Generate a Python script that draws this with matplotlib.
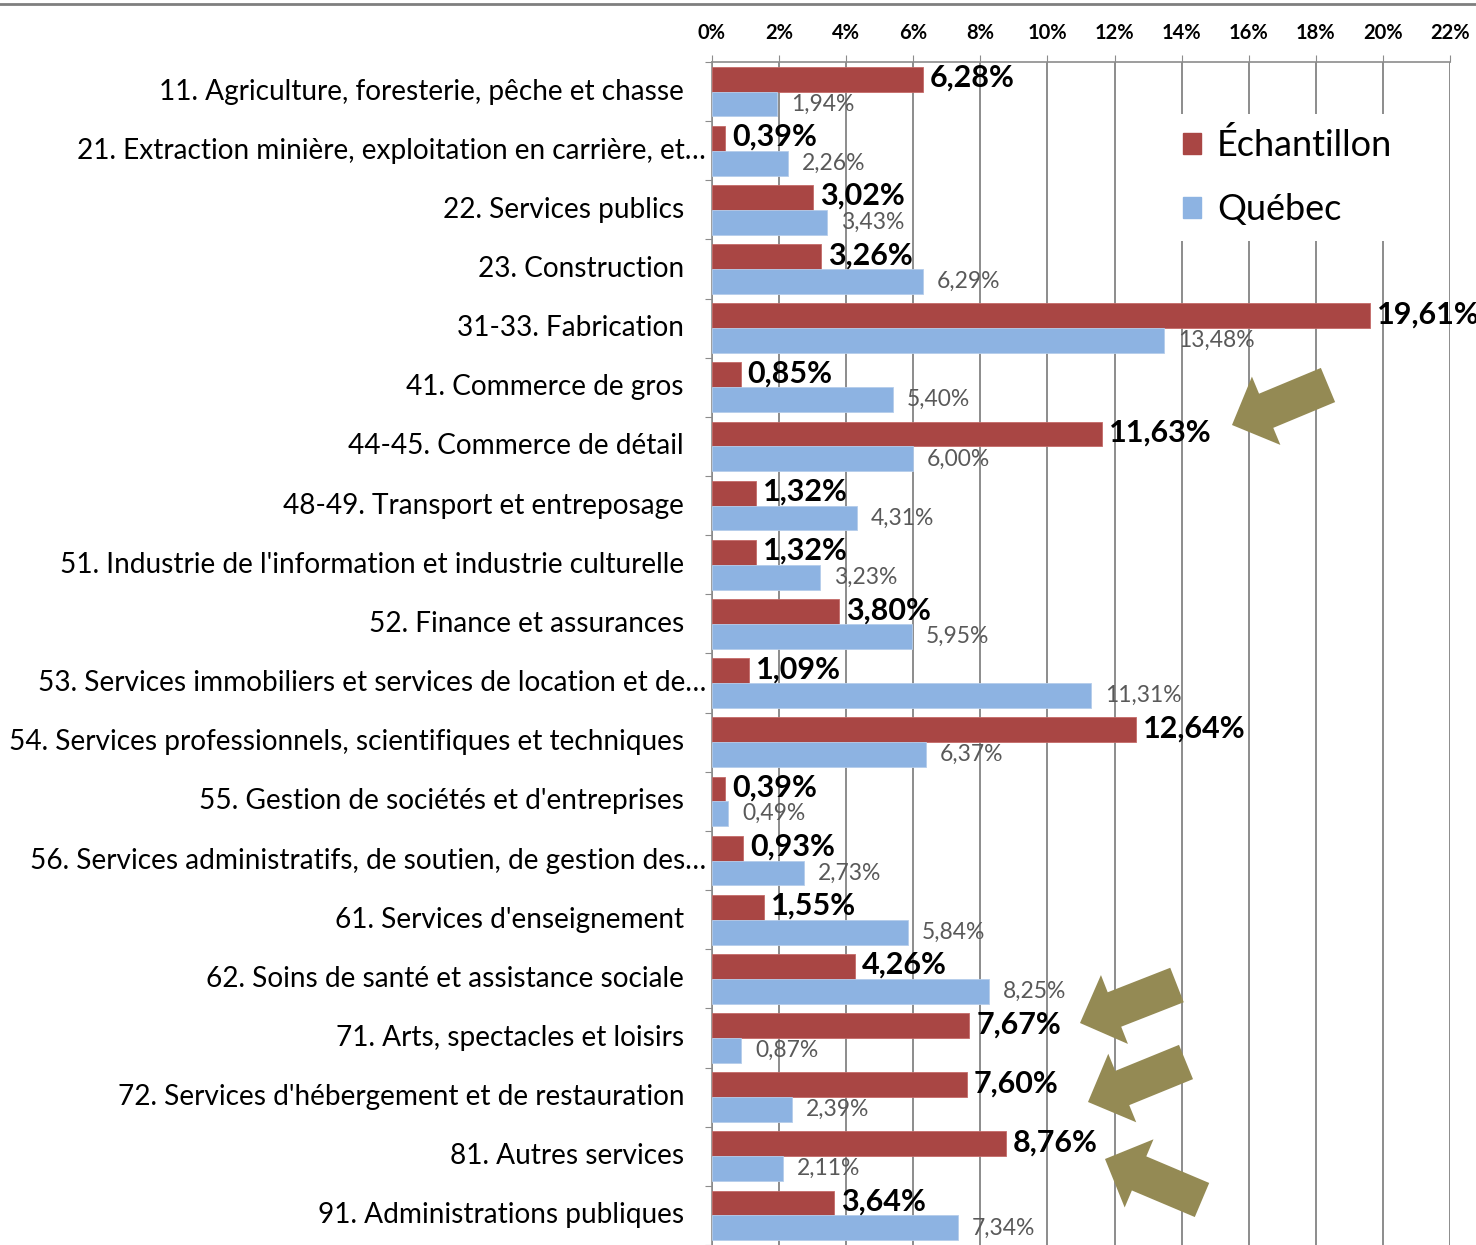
import matplotlib.pyplot as plt
import matplotlib.transforms as mtransforms
from matplotlib.patches import Patch, FancyArrow
from matplotlib.lines import Line2D

categories = [
    "11. Agriculture, foresterie, pêche et chasse",
    "21. Extraction minière, exploitation en carrière, et…",
    "22. Services publics",
    "23. Construction",
    "31-33. Fabrication",
    "41. Commerce de gros",
    "44-45. Commerce de détail",
    "48-49. Transport et entreposage",
    "51. Industrie de l'information et industrie culturelle",
    "52. Finance et assurances",
    "53. Services immobiliers et services de location et de…",
    "54. Services professionnels, scientifiques et techniques",
    "55. Gestion de sociétés et d'entreprises",
    "56. Services administratifs, de soutien, de gestion des…",
    "61. Services d'enseignement",
    "62. Soins de santé et assistance sociale",
    "71. Arts, spectacles et loisirs",
    "72. Services d'hébergement et de restauration",
    "81. Autres services",
    "91. Administrations publiques",
]
echantillon = [6.28, 0.39, 3.02, 3.26, 19.61, 0.85, 11.63, 1.32, 1.32, 3.80,
               1.09, 12.64, 0.39, 0.93, 1.55, 4.26, 7.67, 7.60, 8.76, 3.64]
quebec = [1.94, 2.26, 3.43, 6.29, 13.48, 5.40, 6.00, 4.31, 3.23, 5.95,
          11.31, 6.37, 0.49, 2.73, 5.84, 8.25, 0.87, 2.39, 2.11, 7.34]
xticks = list(range(0, 23, 2))

red = '#A94644'
blue = '#8DB3E2'
olive = '#948A54'
grid_col = '#8C8C8C'

plt.rcParams['font.family'] = ['Lato', 'DejaVu Sans']

fig = plt.figure(figsize=(14.76, 12.45), dpi=100)
ax = fig.add_axes([712 / 1476, 0.0, 738 / 1476, 1 - 62 / 1245])

n = len(categories)
h = 0.42
ys = list(range(n))
ax.barh([y - h / 2 for y in ys], echantillon, height=h, color=red,
        edgecolor='#C46A68', linewidth=0.6, zorder=3)
ax.barh([y + h / 2 for y in ys], quebec, height=h, color=blue,
        edgecolor='#B5CDEB', linewidth=0.6, zorder=3)

ax.set_xlim(0, 22)
ax.set_ylim(n - 0.5, -0.5)

# value labels
for y, v in zip(ys, echantillon):
    ax.annotate(f"{v:.2f}%".replace('.', ','), (v, y - h / 2), xytext=(5, 1),
                textcoords='offset points', va='center', ha='left',
                fontsize=22, fontweight='bold', color='black', zorder=5)
for y, v in zip(ys, quebec):
    ax.annotate(f"{v:.2f}%".replace('.', ','), (v, y + h / 2), xytext=(10, 0),
                textcoords='offset points', va='center', ha='left',
                fontsize=16.5, color='#595959', zorder=5)

# x axis on top
ax.xaxis.tick_top()
ax.set_xticks(xticks)
ax.set_xticklabels([f"{t}%" for t in xticks], fontsize=14.5, fontweight='bold',
                   family=['Liberation Sans Narrow', 'Lato'])
ax.tick_params(axis='x', length=5, color=grid_col, pad=9)
ax.grid(axis='x', color=grid_col, linewidth=1.4, zorder=0)

# y ticks at category boundaries, labels as texts
ax.set_yticks([y - 0.5 for y in ys] + [n - 0.5])
ax.set_yticklabels([])
ax.tick_params(axis='y', length=5, color=grid_col)
trans = mtransforms.blended_transform_factory(ax.transAxes, ax.transData)
for y, lab in zip(ys, categories):
    shift = -0.06 if lab.endswith('…') else -0.28
    off = mtransforms.ScaledTranslation(shift, 0, fig.dpi_scale_trans)
    ax.text(0, y, lab, transform=trans + off, ha='right', va='center',
            fontsize=20.2, color='black')

for s in ['right', 'bottom']:
    ax.spines[s].set_visible(False)
for s in ['left', 'top']:
    ax.spines[s].set_color(grid_col)
    ax.spines[s].set_linewidth(1.2)

# legend
handles = [Patch(color=red, label='Échantillon'), Patch(color=blue, label='Québec')]
leg = fig.legend(handles=handles, loc='upper left',
                 bbox_to_anchor=(1150 / 1476, 1 - 96 / 1245),
                 fontsize=26, frameon=True, framealpha=1, facecolor='white',
                 edgecolor='none', fancybox=False, handlelength=0.5,
                 handleheight=0.5, handletextpad=0.45, labelspacing=0.85,
                 borderpad=0.4)
leg.set_zorder(6)

# top border line
fig.add_artist(Line2D([0, 1], [1 - 4 / 1245] * 2, transform=fig.transFigure,
                      color='#7F7F7F', linewidth=2))

# highlight arrows (pixel coords: tail center, tip)
arrows = [((1328, 385), (1232, 425)),
          ((1177, 985), (1080, 1023)),
          ((1186, 1062), (1088, 1102)),
          ((1202, 1200), (1105, 1159))]
for (tx, ty), (hx, hy) in arrows:
    x0, y0 = tx / 100, (1245 - ty) / 100
    x1, y1 = hx / 100, (1245 - hy) / 100
    fig.add_artist(FancyArrow(x0, y0, x1 - x0, y1 - y0, width=0.37,
                              head_width=0.74, head_length=0.37,
                              length_includes_head=True, color=olive,
                              linewidth=0, transform=fig.dpi_scale_trans,
                              zorder=7))

fig.savefig('out.png', dpi=100)
